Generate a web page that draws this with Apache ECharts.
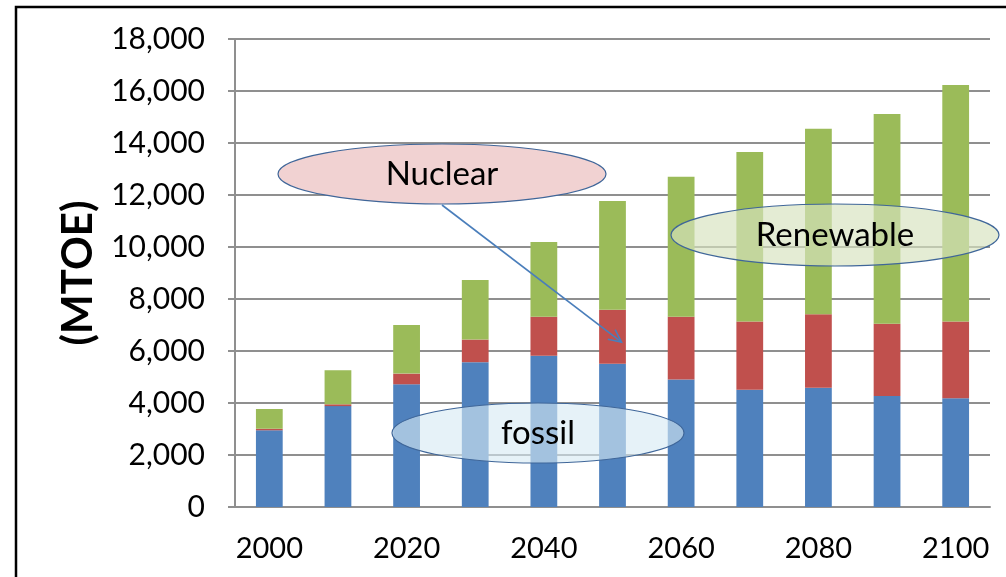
<!DOCTYPE html>
<html>
<head>
<meta charset="utf-8">
<script src="https://cdn.jsdelivr.net/npm/echarts@6/dist/echarts.min.js"></script>
<style>
  html, body { margin: 0; padding: 0; background: #fff; }
  #chart { width: 1006px; height: 577px; }
</style>
</head>
<body>
<div id="chart"></div>
<script>
// Primary energy supply by source, 2000–2100 (MTOE)
const years = ['2000', '2010', '2020', '2030', '2040', '2050', '2060', '2070', '2080', '2090', '2100'];
const fossil = [2950, 3880, 4720, 5570, 5820, 5510, 4900, 4510, 4590, 4270, 4180];
const nuclear = [60, 70, 410, 870, 1500, 2080, 2420, 2620, 2820, 2780, 2950];
const renewable = [760, 1310, 1870, 2290, 2870, 4180, 5380, 6520, 7140, 8070, 9100];

const yMin = 0, yMax = 18000, yStep = 2000;
const axisName = '(MTOE)';
const labelFossil = 'fossil';
const labelNuclear = 'Nuclear';
const labelRenewable = 'Renewable';

const FONT = 'Lato, "Open Sans", sans-serif';
const GRID_GRAY = '#8f8f8f';

const chart = echarts.init(document.getElementById('chart'), null, { renderer: 'canvas' });

const barSeries = (name, data, color) => ({
  name, type: 'bar', stack: 'total', data,
  barWidth: '39%',
  itemStyle: { color },
  emphasis: { disabled: true },
  animation: false
});

chart.setOption({
  animation: false,
  backgroundColor: '#ffffff',
  textStyle: { fontFamily: FONT },
  grid: { left: 235, right: 16, top: 39, bottom: 70, containLabel: false },
  xAxis: {
    type: 'category',
    data: years,
    axisLine: { show: true, lineStyle: { color: GRID_GRAY, width: 2 } },
    axisTick: { show: false },
    axisLabel: {
      interval: 1,
      color: '#000',
      fontSize: 29,
      fontFamily: FONT,
      margin: 27
    }
  },
  yAxis: {
    type: 'value',
    min: yMin, max: yMax, interval: yStep,
    name: axisName,
    nameLocation: 'middle',
    nameRotate: 90,
    nameGap: 136,
    nameTextStyle: { fontSize: 42, fontWeight: 'bold', color: '#000', fontFamily: FONT },
    axisLine: { show: true, lineStyle: { color: GRID_GRAY, width: 2 } },
    axisTick: { show: true, inside: false, length: 7, lineStyle: { color: GRID_GRAY, width: 2 } },
    splitLine: { show: true, lineStyle: { color: GRID_GRAY, width: 2 } },
    axisLabel: {
      color: '#000',
      fontSize: 30,
      fontFamily: FONT,
      margin: 30,
      formatter: v => v.toLocaleString('en-US')
    }
  },
  series: [
    barSeries('fossil', fossil, '#4f81bd'),
    barSeries('Nuclear', nuclear, '#c0504d'),
    barSeries('Renewable', renewable, '#9bbb59')
  ]
});

// Callout ellipses, arrow and outer frame
function calloutEllipse(cx, cy, rx, ry, fill, text) {
  return {
    type: 'group',
    z: 100,
    children: [
      {
        type: 'ellipse',
        shape: { cx, cy, rx, ry },
        style: { fill, stroke: '#3f6699', lineWidth: 1.2 },
        z: 100
      },
      {
        type: 'text',
        x: cx, y: cy,
        style: {
          text, fill: '#000', font: '33px ' + FONT,
          align: 'center', verticalAlign: 'middle'
        },
        z: 101
      }
    ]
  };
}

// arrow from the Nuclear callout to the 2050 nuclear segment
const start = [442, 205];
const tip = chart.convertToPixel({ xAxisIndex: 0, yAxisIndex: 0 }, ['2050', fossil[5] + nuclear[5] * 0.4]);
const end = [tip[0] + 9, tip[1]];
const ang = Math.atan2(end[1] - start[1], end[0] - start[0]);
const headLen = 14, spread = 0.45;
const h1 = [end[0] - headLen * Math.cos(ang - spread), end[1] - headLen * Math.sin(ang - spread)];
const h2 = [end[0] - headLen * Math.cos(ang + spread), end[1] - headLen * Math.sin(ang + spread)];

chart.setOption({
  graphic: [
    calloutEllipse(538, 433, 146, 30, 'rgba(215,234,244,0.62)', labelFossil),
    calloutEllipse(835, 235, 164, 31, 'rgba(215,227,191,0.67)', labelRenewable),
    calloutEllipse(442, 174, 164, 30, 'rgba(241,210,210,1)', labelNuclear),
    {
      type: 'polyline', z: 102,
      shape: { points: [start, end] },
      style: { stroke: '#4a7ebb', lineWidth: 1.6, fill: null }
    },
    {
      type: 'polyline', z: 102,
      shape: { points: [h1, end, h2] },
      style: { stroke: '#4a7ebb', lineWidth: 1.6, fill: null }
    },
    {
      type: 'rect', z: 103,
      shape: { x: 16, y: 7, width: 1200, height: 800 },
      style: { fill: null, stroke: '#000', lineWidth: 2.5 }
    }
  ]
});
</script>
</body>
</html>
